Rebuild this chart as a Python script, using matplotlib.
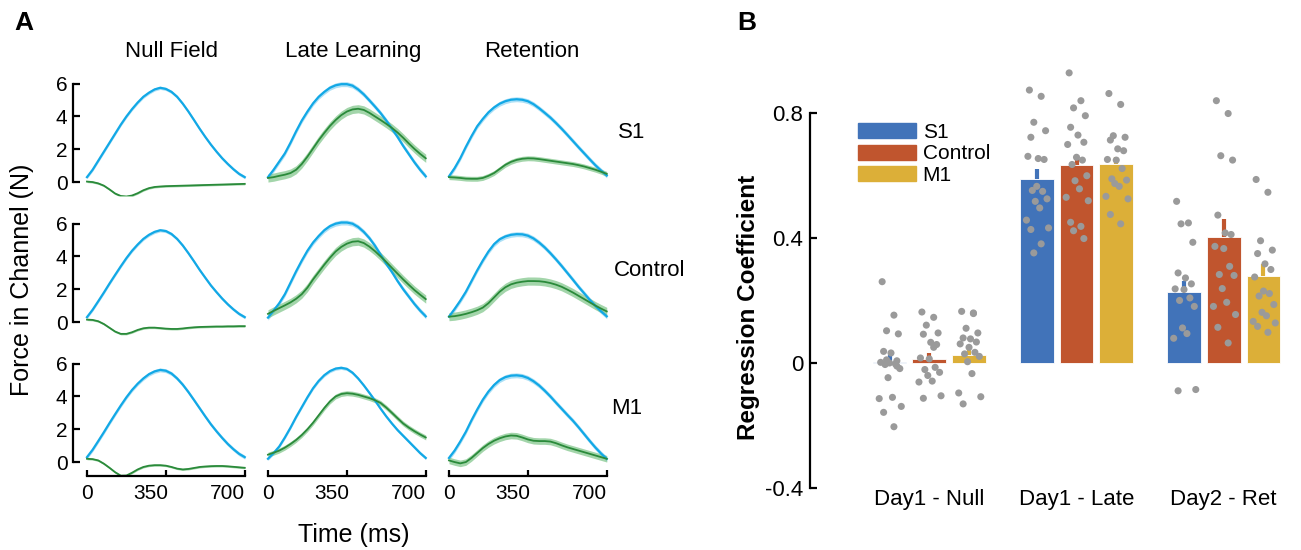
import numpy as np
import matplotlib
matplotlib.use("Agg")
import matplotlib.pyplot as plt
import matplotlib.transforms as mtransforms
from matplotlib.patches import Patch

plt.rcParams['font.family'] = ['Liberation Sans', 'DejaVu Sans']

# ---------------- panel A data (force profiles, N), 25 ms steps ----------------
time_ms = list(range(0, 701, 25))
conditions = ['Null Field', 'Late Learning', 'Retention']
groups = ['S1', 'Control', 'M1']

# blue = commanded (ideal) force, green = measured channel force
blue_S1_null = [0.3, 0.75, 1.3, 1.85, 2.4, 2.95, 3.5, 4.0, 4.45, 4.85, 5.2, 5.45, 5.65, 5.75,
                5.68, 5.5, 5.2, 4.78, 4.3, 3.78, 3.25, 2.75, 2.28, 1.85, 1.45, 1.1, 0.78, 0.5, 0.3]
blue_S1_late = [0.3, 0.75, 1.25, 1.75, 2.4, 3.1, 3.75, 4.3, 4.8, 5.2, 5.5, 5.75, 5.9, 5.97,
                5.97, 5.88, 5.65, 5.35, 4.98, 4.6, 4.2, 3.75, 3.25, 2.75, 2.2, 1.7, 1.2, 0.75, 0.35]
blue_S1_ret = [0.35, 0.85, 1.45, 2.15, 2.8, 3.4, 3.85, 4.25, 4.55, 4.78, 4.93, 5.02, 5.05, 5.02,
               4.93, 4.75, 4.5, 4.22, 3.93, 3.6, 3.25, 2.88, 2.5, 2.12, 1.75, 1.38, 1.02, 0.7, 0.4]
green_S1_null = [0.03, 0.0, -0.08, -0.22, -0.45, -0.7, -0.85, -0.88, -0.82, -0.68, -0.5, -0.37,
                 -0.3, -0.27, -0.25, -0.24, -0.23, -0.22, -0.21, -0.2, -0.19, -0.18, -0.17,
                 -0.16, -0.15, -0.14, -0.13, -0.12, -0.11]
green_S1_late = [0.25, 0.3, 0.38, 0.45, 0.55, 0.75, 1.1, 1.55, 2.05, 2.55, 3.0, 3.42, 3.78, 4.08,
                 4.3, 4.43, 4.47, 4.4, 4.22, 4.0, 3.78, 3.55, 3.3, 3.02, 2.7, 2.35, 2.02, 1.72, 1.45]
green_S1_ret = [0.3, 0.28, 0.25, 0.21, 0.2, 0.2, 0.25, 0.38, 0.55, 0.8, 1.05, 1.23, 1.35, 1.42,
                1.45, 1.44, 1.4, 1.35, 1.3, 1.25, 1.2, 1.15, 1.1, 1.03, 0.95, 0.85, 0.75, 0.63, 0.5]

blue_Con_null = [0.3, 0.75, 1.27, 1.8, 2.35, 2.88, 3.4, 3.9, 4.35, 4.73, 5.07, 5.32, 5.5, 5.6,
                 5.55, 5.37, 5.07, 4.67, 4.2, 3.7, 3.18, 2.7, 2.23, 1.82, 1.43, 1.08, 0.77, 0.5, 0.3]
blue_Con_late = [0.27, 0.7, 1.15, 1.7, 2.4, 3.1, 3.75, 4.35, 4.85, 5.25, 5.6, 5.85, 6.0, 6.07,
                 6.07, 6.0, 5.8, 5.5, 5.12, 4.65, 4.1, 3.55, 3.05, 2.5, 2.0, 1.55, 1.1, 0.7, 0.35]
blue_Con_ret = [0.33, 0.8, 1.3, 1.85, 2.5, 3.15, 3.75, 4.3, 4.75, 5.05, 5.22, 5.32, 5.36, 5.35,
                5.27, 5.1, 4.85, 4.55, 4.2, 3.82, 3.42, 3.0, 2.58, 2.15, 1.75, 1.35, 0.98, 0.65, 0.35]
green_Con_null = [0.15, 0.13, 0.05, -0.12, -0.35, -0.58, -0.72, -0.72, -0.62, -0.48, -0.38, -0.34,
                  -0.34, -0.37, -0.4, -0.42, -0.42, -0.39, -0.35, -0.32, -0.3, -0.29, -0.28,
                  -0.27, -0.27, -0.26, -0.26, -0.25, -0.25]
green_Con_late = [0.5, 0.68, 0.85, 1.02, 1.2, 1.42, 1.7, 2.1, 2.6, 3.05, 3.5, 3.92, 4.3, 4.58,
                  4.78, 4.9, 4.93, 4.82, 4.6, 4.32, 4.0, 3.66, 3.3, 2.95, 2.6, 2.27, 1.95, 1.67, 1.4]
green_Con_ret = [0.33, 0.36, 0.42, 0.5, 0.6, 0.72, 0.88, 1.15, 1.5, 1.85, 2.12, 2.3, 2.4, 2.46,
                 2.5, 2.5, 2.49, 2.45, 2.38, 2.28, 2.15, 1.98, 1.8, 1.6, 1.4, 1.2, 1.0, 0.82, 0.65]

blue_M1_null = [0.3, 0.75, 1.28, 1.82, 2.38, 2.92, 3.45, 3.95, 4.4, 4.78, 5.1, 5.36, 5.53, 5.62,
                5.57, 5.4, 5.1, 4.72, 4.27, 3.78, 3.28, 2.78, 2.3, 1.87, 1.47, 1.1, 0.78, 0.5, 0.3]
blue_M1_late = [0.2, 0.55, 0.95, 1.5, 2.1, 2.75, 3.35, 3.95, 4.5, 4.95, 5.3, 5.55, 5.7, 5.75,
                5.68, 5.45, 5.1, 4.68, 4.22, 3.75, 3.25, 2.78, 2.35, 1.95, 1.6, 1.25, 0.9, 0.55, 0.25]
blue_M1_ret = [0.25, 0.7, 1.25, 1.85, 2.55, 3.2, 3.8, 4.3, 4.7, 5.0, 5.18, 5.27, 5.29, 5.25,
               5.13, 4.93, 4.67, 4.35, 4.0, 3.62, 3.25, 2.88, 2.52, 2.12, 1.7, 1.28, 0.88, 0.52, 0.2]
green_M1_null = [0.2, 0.18, 0.1, -0.1, -0.35, -0.62, -0.83, -0.82, -0.65, -0.45, -0.3, -0.22,
                 -0.19, -0.19, -0.22, -0.3, -0.4, -0.45, -0.42, -0.36, -0.3, -0.27, -0.25,
                 -0.24, -0.24, -0.26, -0.29, -0.32, -0.35]
green_M1_late = [0.45, 0.57, 0.7, 0.88, 1.1, 1.35, 1.65, 2.0, 2.4, 2.85, 3.3, 3.7, 4.0, 4.15,
                 4.2, 4.17, 4.1, 4.0, 3.9, 3.77, 3.6, 3.32, 3.0, 2.67, 2.35, 2.1, 1.88, 1.68, 1.5]
green_M1_ret = [0.1, 0.0, -0.08, 0.0, 0.25, 0.55, 0.85, 1.1, 1.3, 1.45, 1.56, 1.62, 1.6, 1.5,
                1.38, 1.3, 1.28, 1.28, 1.25, 1.15, 1.02, 0.9, 0.8, 0.7, 0.6, 0.5, 0.4, 0.3, 0.2]

blue_curves = [[blue_S1_null, blue_S1_late, blue_S1_ret],
               [blue_Con_null, blue_Con_late, blue_Con_ret],
               [blue_M1_null, blue_M1_late, blue_M1_ret]]
green_curves = [[green_S1_null, green_S1_late, green_S1_ret],
                [green_Con_null, green_Con_late, green_Con_ret],
                [green_M1_null, green_M1_late, green_M1_ret]]
blue_sem = [[0.1, 0.15, 0.15], [0.1, 0.15, 0.15], [0.12, 0.1, 0.15]]
green_sem = [[0.06, 0.25, 0.15], [0.06, 0.25, 0.25], [0.06, 0.15, 0.2]]

# ---------------- panel B data (regression coefficients) ----------------
phases = ['Day1 - Null', 'Day1 - Late', 'Day2 - Ret']
bar_S1 = [0.004, 0.589, 0.226]
bar_Con = [0.012, 0.634, 0.402]
bar_M1 = [0.027, 0.636, 0.279]
err_S1 = [0.02, 0.033, 0.035]
err_Con = [0.02, 0.031, 0.057]
err_M1 = [0.016, 0.024, 0.036]

pts_S1 = [
    [0.26, 0.153, 0.103, 0.093, 0.037, 0.032, 0.007, 0.002, 0.0, -0.003, -0.005, -0.018,
     -0.047, -0.11, -0.114, -0.139, -0.158, -0.204, 0.01, -0.01],
    [0.873, 0.853, 0.77, 0.743, 0.722, 0.654, 0.651, 0.661, 0.565, 0.549, 0.552, 0.525,
     0.517, 0.496, 0.457, 0.432, 0.427, 0.381, 0.352],
    [0.517, 0.448, 0.445, 0.386, 0.288, 0.272, 0.253, 0.237, 0.235, 0.208, 0.2, 0.181,
     0.112, 0.094, 0.079, -0.085, -0.089],
]
pts_Con = [
    [0.163, 0.146, 0.121, 0.096, 0.092, 0.066, 0.059, 0.016, 0.013, -0.014, -0.021, -0.03,
     -0.04, -0.058, -0.061, -0.105, -0.113, 0.05],
    [0.928, 0.839, 0.816, 0.791, 0.754, 0.729, 0.706, 0.699, 0.658, 0.649, 0.635, 0.599,
     0.583, 0.557, 0.53, 0.519, 0.45, 0.437, 0.423, 0.398],
    [0.839, 0.798, 0.663, 0.649, 0.473, 0.416, 0.411, 0.373, 0.366, 0.309, 0.283, 0.28,
     0.238, 0.194, 0.181, 0.155, 0.114, 0.064],
]
pts_M1 = [
    [0.165, 0.16, 0.111, 0.096, 0.08, 0.077, 0.067, 0.061, 0.05, 0.034, 0.029, 0.021,
     0.004, -0.034, -0.096, -0.108, -0.131, 0.158],
    [0.862, 0.827, 0.727, 0.722, 0.713, 0.685, 0.679, 0.651, 0.649, 0.622, 0.589, 0.585,
     0.574, 0.565, 0.533, 0.525, 0.475, 0.445],
    [0.587, 0.546, 0.391, 0.361, 0.35, 0.317, 0.299, 0.275, 0.23, 0.222, 0.214, 0.187,
     0.162, 0.151, 0.133, 0.128, 0.117, 0.098],
]

col_blue = '#12a8e6'
col_green = '#2a8a3a'
col_band_green = '#7cc487'
bar_colors = ['#4173b9', '#c0552e', '#dcaf38']

W, H = 1301, 550
fig = plt.figure(figsize=(W / 100, H / 100), dpi=100)

def fx(px):
    return px / W

def fy(py):
    return 1 - py / H

# ---------------- panel A ----------------
col_left = [73, 254, 435]
row_bottom = [196, 336, 476]
ax_w, ax_h = 174, 115.6
t = np.array(time_ms)
xlab_shift = [0, -15, -17]  # px, tick labels sit left of their ticks in the original

for r in range(3):
    for c in range(3):
        ax = fig.add_axes([fx(col_left[c]), fy(row_bottom[r]), ax_w / W, ax_h / H])
        b = np.array(blue_curves[r][c])
        g = np.array(green_curves[r][c])
        ax.fill_between(t, b - blue_sem[r][c], b + blue_sem[r][c], color=col_blue, alpha=0.35, lw=0)
        ax.plot(t, b, color=col_blue, lw=1.6)
        ax.fill_between(t, g - green_sem[r][c], g + green_sem[r][c], color=col_band_green, alpha=0.7, lw=0)
        ax.plot(t, g, color=col_green, lw=1.3)
        ax.set_xlim(-62, 710)
        ax.set_ylim(-0.85, 6.2)
        ax.spines['top'].set_visible(False)
        ax.spines['right'].set_visible(False)
        if c == 0:
            ax.spines['left'].set_bounds(0, 6)
            ax.spines['left'].set_linewidth(1.6)
            ax.set_yticks([0, 2, 4, 6])
            ax.tick_params(axis='y', direction='in', length=5, width=1.6, labelsize=15, pad=4)
        else:
            ax.spines['left'].set_visible(False)
            ax.set_yticks([])
        if r == 2:
            ax.spines['bottom'].set_bounds(0, 700)
            ax.spines['bottom'].set_linewidth(1.6)
            ax.set_xticks([0, 350, 700])
            ax.tick_params(axis='x', direction='in', length=4.5, width=1.6, labelsize=15, pad=6)
            for lab, dx in zip(ax.get_xticklabels(), xlab_shift):
                lab.set_transform(lab.get_transform() +
                                  mtransforms.ScaledTranslation(dx / 100, 0, fig.dpi_scale_trans))
        else:
            ax.spines['bottom'].set_visible(False)
            ax.set_xticks([])

title_x = [172, 353, 532]
for c in range(3):
    fig.text(fx(title_x[c]), fy(52), conditions[c], ha='center', va='center', fontsize=16)

row_lab_x = [632, 650, 627]
row_lab_y = [133, 270, 408]
for r in range(3):
    fig.text(fx(row_lab_x[r]), fy(row_lab_y[r]), groups[r], ha='center', va='center', fontsize=16)

fig.text(fx(22), fy(280), 'Force in Channel (N)', rotation=90, ha='center', va='center', fontsize=18)
fig.text(fx(354), fy(535), 'Time (ms)', ha='center', va='center', fontsize=18)
fig.text(fx(14), fy(23), 'A', ha='left', va='center', fontsize=19, fontweight='bold')
fig.text(fx(737), fy(23), 'B', ha='left', va='center', fontsize=19, fontweight='bold')

# ---------------- panel B ----------------
axb = fig.add_axes([fx(810), fy(488), 480 / W, 422 / H])
x = np.arange(len(phases))
offs = [-0.27, 0.0, 0.27]
bw = 0.23
jit = [-0.05, 0.03, -0.02, 0.06, -0.04, 0.01, 0.05, -0.06, 0.0, 0.04,
       -0.03, 0.07, -0.01, 0.02, -0.07, 0.08, -0.04, 0.03, -0.02, 0.05]

for k, (vals, errs, pts) in enumerate([(bar_S1, err_S1, pts_S1),
                                       (bar_Con, err_Con, pts_Con),
                                       (bar_M1, err_M1, pts_M1)]):
    xs = x + offs[k]
    axb.bar(xs, vals, width=bw, color=bar_colors[k], edgecolor='white', linewidth=0.6,
            label=groups[k], zorder=2)
    for i in range(len(phases)):
        axb.plot([xs[i], xs[i]], [vals[i], vals[i] + errs[i]], color=bar_colors[k],
                 lw=3, solid_capstyle='butt', zorder=1.9)
        p = pts[i]
        axb.scatter(xs[i] + np.array(jit[:len(p)]), p, s=26, color='#9a9a9a',
                    edgecolors='none', zorder=3)

axb.set_xlim(-0.81, 2.45)
axb.set_ylim(-0.4, 0.95)
axb.spines['top'].set_visible(False)
axb.spines['right'].set_visible(False)
axb.spines['bottom'].set_visible(False)
axb.spines['left'].set_bounds(-0.4, 0.8)
axb.spines['left'].set_linewidth(1.6)
axb.set_yticks([-0.4, 0, 0.4, 0.8])
axb.set_yticklabels(['-0.4', '0', '0.4', '0.8'])
axb.tick_params(axis='y', direction='in', length=5, width=1.6, labelsize=16, pad=5)
axb.set_xticks(x)
axb.set_xticklabels(phases)
axb.tick_params(axis='x', length=0, labelsize=16, pad=1)

fig.text(fx(749), fy(307), 'Regression Coefficient', rotation=90, ha='center', va='center',
         fontsize=17.5, fontweight='bold')

handles = [Patch(color=bar_colors[k], label=groups[k]) for k in range(3)]
axb.legend(handles=handles, loc='upper left', bbox_to_anchor=(0.1, 0.865), frameon=False,
           fontsize=15, handlelength=2.8, handleheight=0.75, labelspacing=0.12,
           handletextpad=0.3, borderpad=0, borderaxespad=0)

fig.savefig('out.png', dpi=100)
